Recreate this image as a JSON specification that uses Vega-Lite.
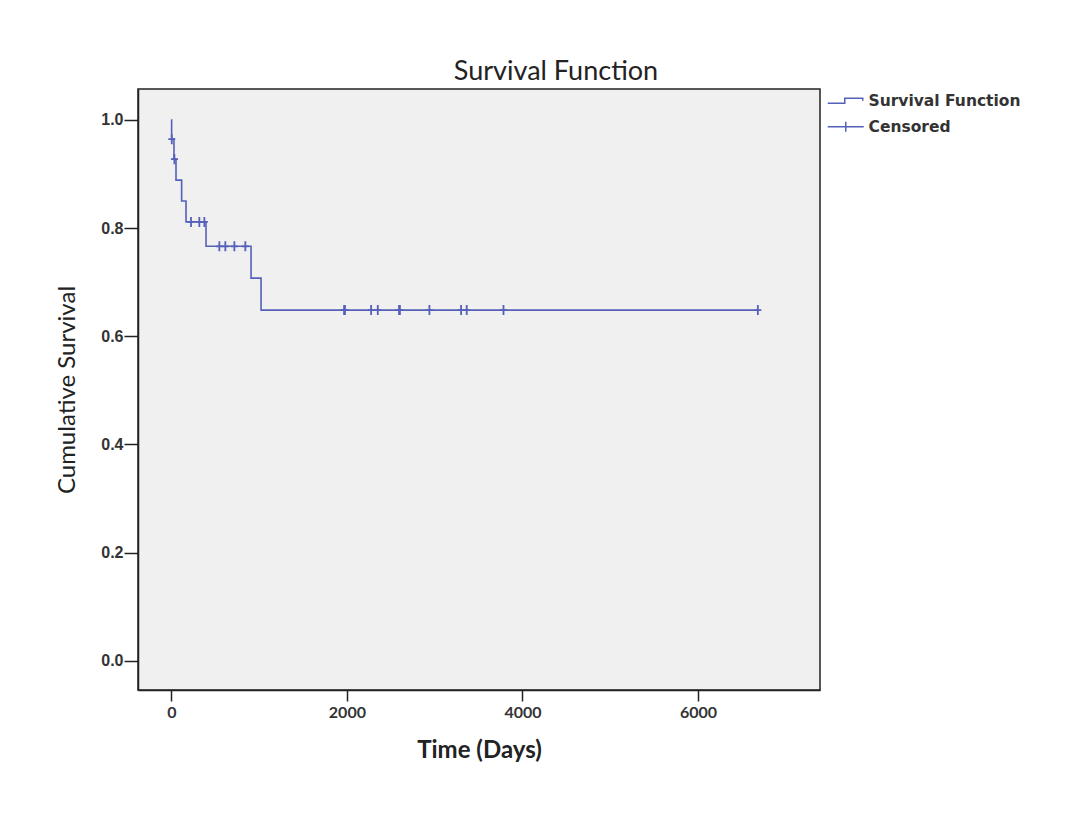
{
  "$schema": "https://vega.github.io/schema/vega-lite/v6.json",
  "width": 682,
  "height": 601,
  "autosize": {"type": "none"},
  "padding": {"left": 138, "top": 89, "right": 254, "bottom": 127},
  "background": "white",
  "title": {
    "text": "Survival Function",
    "anchor": "middle",
    "dx": 77,
    "offset": 3,
    "font": "Lato",
    "fontSize": 27,
    "fontWeight": "normal",
    "color": "#222222"
  },
  "data": {
    "values": [
      {"time": 0, "survival": 1.0, "kind": "Survival Function"},
      {"time": 3, "survival": 0.9643, "kind": "Survival Function"},
      {"time": 30, "survival": 0.9272, "kind": "Survival Function"},
      {"time": 53, "survival": 0.8886, "kind": "Survival Function"},
      {"time": 117, "survival": 0.8499, "kind": "Survival Function"},
      {"time": 167, "survival": 0.8113, "kind": "Survival Function"},
      {"time": 395, "survival": 0.7662, "kind": "Survival Function"},
      {"time": 908, "survival": 0.7073, "kind": "Survival Function"},
      {"time": 1022, "survival": 0.6483, "kind": "Survival Function"},
      {"time": 6682, "survival": 0.6483, "kind": "Survival Function"},
      {"time": 5, "survival": 0.9643, "kind": "Censored"},
      {"time": 35, "survival": 0.9272, "kind": "Censored"},
      {"time": 224, "survival": 0.8113, "kind": "Censored"},
      {"time": 319, "survival": 0.8113, "kind": "Censored"},
      {"time": 376, "survival": 0.8113, "kind": "Censored"},
      {"time": 547, "survival": 0.7662, "kind": "Censored"},
      {"time": 615, "survival": 0.7662, "kind": "Censored"},
      {"time": 718, "survival": 0.7662, "kind": "Censored"},
      {"time": 843, "survival": 0.7662, "kind": "Censored"},
      {"time": 1968, "survival": 0.6483, "kind": "Censored"},
      {"time": 1978, "survival": 0.6483, "kind": "Censored"},
      {"time": 2276, "survival": 0.6483, "kind": "Censored"},
      {"time": 2352, "survival": 0.6483, "kind": "Censored"},
      {"time": 2594, "survival": 0.6483, "kind": "Censored"},
      {"time": 2604, "survival": 0.6483, "kind": "Censored"},
      {"time": 2940, "survival": 0.6483, "kind": "Censored"},
      {"time": 3301, "survival": 0.6483, "kind": "Censored"},
      {"time": 3365, "survival": 0.6483, "kind": "Censored"},
      {"time": 3784, "survival": 0.6483, "kind": "Censored"},
      {"time": 6682, "survival": 0.6483, "kind": "Censored"}
    ]
  },
  "encoding": {
    "x": {
      "field": "time",
      "type": "quantitative",
      "scale": {"domain": [-380, 7390], "nice": false, "zero": false},
      "axis": {
        "title": "Time (Days)",
        "values": [0, 2000, 4000, 6000],
        "format": "d",
        "grid": false,
        "domainColor": "#222222",
        "domainWidth": 1.5,
        "tickColor": "#222222",
        "tickWidth": 1.5,
        "tickSize": 11,
        "labelPadding": 3,
        "labelFont": "Lato",
        "labelFontSize": 16,
        "labelFontWeight": "bold",
        "labelColor": "#333333",
        "titleFont": "Lato",
        "titleFontSize": 24,
        "titleFontWeight": "bold",
        "titleColor": "#222222",
        "titlePadding": 18
      }
    },
    "y": {
      "field": "survival",
      "type": "quantitative",
      "scale": {"domain": [-0.054, 1.057], "nice": false, "zero": false},
      "axis": {
        "title": "Cumulative Survival",
        "values": [0, 0.2, 0.4, 0.6, 0.8, 1.0],
        "format": ".1f",
        "grid": false,
        "domainColor": "#222222",
        "domainWidth": 1.5,
        "tickColor": "#222222",
        "tickWidth": 1.5,
        "tickSize": 14,
        "labelPadding": 1,
        "labelFont": "Liberation Sans",
        "labelFontSize": 16,
        "labelFontWeight": "bold",
        "labelColor": "#333333",
        "titleFont": "Lato",
        "titleFontSize": 24,
        "titleFontWeight": "normal",
        "titleColor": "#222222",
        "titlePadding": 21
      }
    },
    "color": {
      "field": "kind",
      "type": "nominal",
      "scale": {"domain": ["Survival Function", "Censored"], "range": ["#5560b8", "#5560b8"]},
      "legend": {
        "title": null,
        "orient": "none",
        "legendX": 700,
        "legendY": 4,
        "padding": 0,
        "symbolSize": 100,
        "symbolStrokeWidth": 1.5,
        "symbolFillColor": "transparent",
        "labelFont": "DejaVu Sans",
        "labelFontSize": 15.5,
        "labelFontWeight": "bold",
        "labelColor": "#333333",
        "labelOffset": 15,
        "rowPadding": 8,
        "encode": {
          "symbols": {
            "update": {
              "shape": {"signal": "datum.value === 'Censored' ? 'M-3.6,0H3.6M0,-1V1' : 'M-3.6,0.5H-0.2V-0.5H3.4V0'"},
              "fill": {"value": "transparent"},
              "stroke": {"value": "#5560b8"}
            }
          }
        }
      }
    }
  },
  "layer": [
    {
      "transform": [{"filter": "datum.kind === 'Survival Function'"}],
      "mark": {"type": "line", "interpolate": "step-after", "strokeWidth": 1.6}
    },
    {
      "transform": [{"filter": "datum.kind === 'Censored'"}],
      "mark": {"type": "point", "shape": "M0,-1V1M-0.7,0H0.7", "size": 100, "filled": false, "strokeWidth": 1.8, "opacity": 1}
    }
  ],
  "config": {
    "view": {"fill": "#f0f0f0", "stroke": "#222222", "strokeWidth": 1.5}
  }
}
